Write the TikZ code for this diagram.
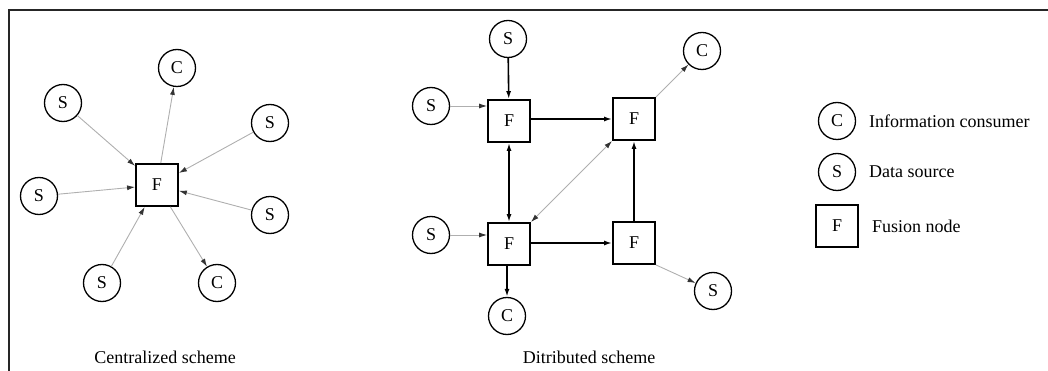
\documentclass[tikz,border=0pt]{standalone}
\usepackage{fontspec}
\setmainfont{Liberation Serif}
\usetikzlibrary{arrows.meta}
\tikzset{
  every node/.style={font=\fontsize{18}{21}\selectfont},
  circ/.style={circle,draw=black,line width=1.3pt,minimum size=37pt,inner sep=0pt},
  fbox/.style={rectangle,draw=black,line width=1.8pt,minimum width=42pt,minimum height=42pt,inner sep=0pt},
  grayarr/.style={draw={rgb,255:red,175;green,175;blue,175},line width=0.9pt,-{Latex[length=8pt,width=5pt,color=black!80]}},
  graydbl/.style={draw={rgb,255:red,175;green,175;blue,175},line width=0.9pt,{Latex[length=8pt,width=5pt,color=black!80]}-{Latex[length=8pt,width=5pt,color=black!80]}},
  blackarr/.style={draw=black,line width=1.6pt,-{Latex[length=8pt,width=5pt]}},
  blackdbl/.style={draw=black,line width=1.6pt,{Latex[length=8pt,width=5pt]}-{Latex[length=8pt,width=5pt]}},
  lbl/.style={anchor=center,inner sep=0pt},
  legtxt/.style={anchor=west,inner sep=0pt}
}
\begin{document}
\begin{tikzpicture}[x=1pt,y=-1pt]
\useasboundingbox (0,0) rectangle (1048,371);
% frame
\draw[line width=2.2pt,black!85] (9,371) -- (9,10) -- (1048,10);

% ---------- Centralized scheme ----------
\node[fbox] (cF) at (157,185) {F};
\node[circ] (cC1) at (177,68) {C};
\node[circ] (cS1) at (63,103) {S};
\node[circ] (cS2) at (270,123) {S};
\node[circ] (cS3) at (39,196) {S};
\node[circ] (cS4) at (270,215) {S};
\node[circ] (cS5) at (102,283) {S};
\node[circ] (cC2) at (217,283) {C};
\draw[grayarr] (cS1) -- (cF);
\draw[grayarr] (cS2) -- (cF);
\draw[grayarr] (cS3) -- (cF);
\draw[grayarr] (cS4) -- (cF);
\draw[grayarr] (cS5) -- (cF);
\draw[grayarr] (cF) -- (cC1);
\draw[grayarr] (cF) -- (cC2);
\node[lbl] (cLab) at (165,357) {Centralized scheme};

% ---------- Distributed scheme ----------
\node[fbox] (dF1) at (509,121) {F};
\node[fbox] (dF2) at (634,119) {F};
\node[fbox] (dF3) at (509,244) {F};
\node[fbox] (dF4) at (634,243) {F};
\node[circ] (dS1) at (508,39) {S};
\node[circ] (dC1) at (702,51) {C};
\node[circ] (dS2) at (431,106) {S};
\node[circ] (dS3) at (431,235) {S};
\node[circ] (dC2) at (507,316) {C};
\node[circ] (dS4) at (713,291) {S};
\draw[blackarr] (dS1) -- (dF1);
\draw[grayarr] (dS2.east) -- (dF1.west |- dS2.east);
\draw[blackarr] (dF1.east |- dF2) -- (dF2.west);
\draw[blackdbl] (dF1) -- (dF3);
\draw[graydbl] (dF3.north east) -- (dF2.south west);
\draw[grayarr] (dS3.east) -- (dF3.west |- dS3.east);
\draw[blackarr] (dF3.east |- dF4) -- (dF4.west);
\draw[blackarr] (dF4) -- (dF2);
\draw[blackarr] (dF3.south -| dC2) -- (dC2);
\draw[grayarr] (dF2.north east) -- (dC1);
\draw[grayarr] (dF4.south east) -- (dS4);
\node[lbl] (dLab) at (589,357) {Ditributed scheme};

% ---------- Legend ----------
\node[circ] (lC) at (837,121) {C};
\node[circ] (lS) at (837,172) {S};
\node[fbox] (lF) at (837,226) {F};
\node[legtxt] (lCt) at (869,121) {Information consumer};
\node[legtxt] (lSt) at (869,172) {Data source};
\node[legtxt] (lFt) at (872,226) {Fusion node};
\end{tikzpicture}
\end{document}
